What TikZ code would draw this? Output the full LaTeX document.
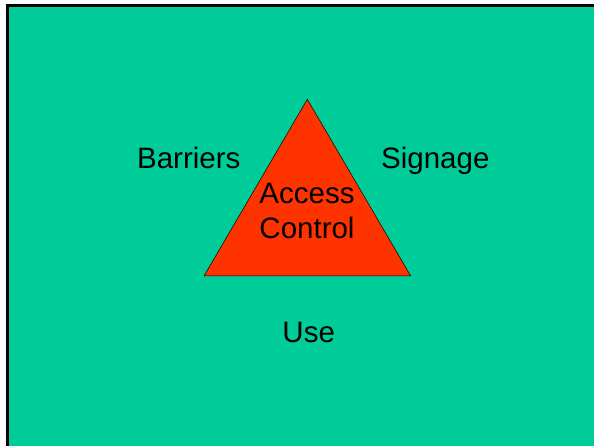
\documentclass[tikz,border=0pt]{standalone}
\usepackage{fontspec}
\setmainfont{Liberation Sans}
\definecolor{bggreen}{RGB}{0,204,153}
\definecolor{trired}{RGB}{255,51,0}
\begin{document}
\begin{tikzpicture}[x=1pt,y=-1pt,
  lbl/.style={font=\fontsize{29.5}{35}\selectfont, inner sep=0pt, anchor=base, text=black}]
\useasboundingbox (0,0) rectangle (594,446);
\fill[white] (0,0) rectangle (594,446);
\fill[bggreen] (9,7) rectangle (594,446);
\draw[black, line width=3pt] (7.5,446) -- (7.5,5.5) -- (594,5.5);
\coordinate (apex) at (307.3,99.3);
\coordinate (bl) at (204,276);
\coordinate (br) at (410.7,276);
\filldraw[fill=trired, draw=black, line width=0.5pt] (apex) -- (bl) -- (br) -- cycle;
\node[lbl] (barriers) at (188.8,169) {Barriers};
\node[lbl] (signage) at (435.3,169) {Signage};
\node[lbl] (access) at (307,204) {Access};
\node[lbl] (control) at (307,239) {Control};
\node[lbl] (use) at (308.7,342.3) {Use};
\end{tikzpicture}
\end{document}
